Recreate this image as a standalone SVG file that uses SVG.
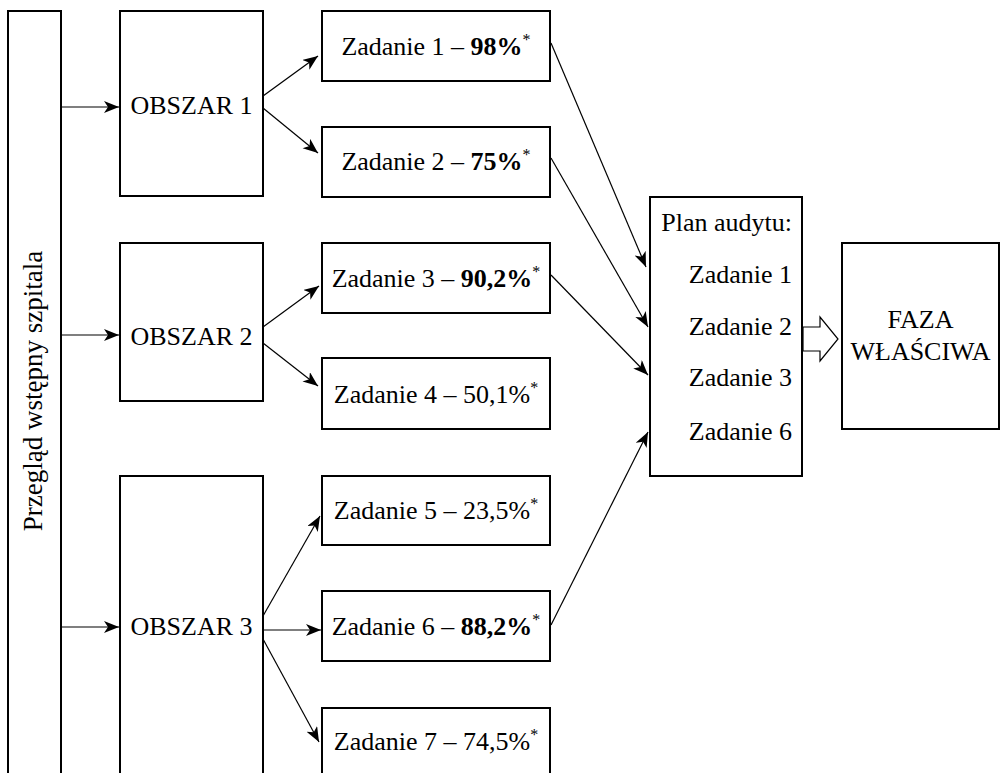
<svg xmlns="http://www.w3.org/2000/svg" width="1000" height="773" viewBox="0 0 1000 773">
<style>
.box{fill:#fff;stroke:#000;stroke-width:2}
.t{font-family:"Liberation Serif","Times New Roman",serif;font-size:26px;fill:#000}
.c{text-anchor:middle}
.r{text-anchor:end}
.b{font-weight:bold}
.sup{font-size:16px}
.ln{fill:none;stroke:#000;stroke-width:1.2}
</style>
<defs>
<marker id="ah" markerUnits="userSpaceOnUse" markerWidth="16" markerHeight="14" refX="15" refY="6" orient="auto">
<path d="M0,0 L15,6 L0,12 L4,6 Z" fill="#000"/>
</marker>
</defs>
<rect width="1000" height="773" fill="#fff"/>
<g id="przeglad">
<rect class="box" x="8" y="11" width="53" height="780"/>
<text class="t c" style="font-size:27px" transform="translate(42,391) rotate(-90)">Przegląd wstępny szpitala</text>
</g>
<g id="obszar1">
<rect class="box" x="120" y="11" width="143" height="185"/>
<text class="t c" x="191.5" y="114">OBSZAR 1</text>
</g>
<g id="obszar2">
<rect class="box" x="120" y="243" width="143" height="158"/>
<text class="t c" x="191.5" y="345">OBSZAR 2</text>
</g>
<g id="obszar3">
<rect class="box" x="120" y="476" width="143" height="320"/>
<text class="t c" x="191.5" y="635">OBSZAR 3</text>
</g>
<g id="zad1">
<rect class="box" x="322" y="11" width="228" height="70"/>
<text class="t c" x="436" y="55">Zadanie 1 – <tspan class="b">98%</tspan><tspan class="sup" dy="-10">*</tspan></text>
</g>
<g id="zad2">
<rect class="box" x="322" y="127" width="228" height="70"/>
<text class="t c" x="436" y="170">Zadanie 2 – <tspan class="b">75%</tspan><tspan class="sup" dy="-10">*</tspan></text>
</g>
<g id="zad3">
<rect class="box" x="322" y="243" width="228" height="70"/>
<text class="t c" x="436" y="287">Zadanie 3 – <tspan class="b">90,2%</tspan><tspan class="sup" dy="-10">*</tspan></text>
</g>
<g id="zad4">
<rect class="box" x="322" y="358" width="228" height="71"/>
<text class="t c" x="436" y="403">Zadanie 4 – 50,1%<tspan class="sup" dy="-10">*</tspan></text>
</g>
<g id="zad5">
<rect class="box" x="322" y="476" width="228" height="69"/>
<text class="t c" x="436" y="519">Zadanie 5 – 23,5%<tspan class="sup" dy="-10">*</tspan></text>
</g>
<g id="zad6">
<rect class="box" x="322" y="591" width="228" height="70"/>
<text class="t c" x="436" y="635">Zadanie 6 – <tspan class="b">88,2%</tspan><tspan class="sup" dy="-10">*</tspan></text>
</g>
<g id="zad7">
<rect class="box" x="322" y="708" width="228" height="90"/>
<text class="t c" x="436" y="750">Zadanie 7 – 74,5%<tspan class="sup" dy="-10">*</tspan></text>
</g>
<g id="plan">
<rect class="box" x="650" y="197" width="152" height="279"/>
<text class="t r" x="792" y="231">Plan audytu:</text>
<text class="t r" x="792" y="283">Zadanie 1</text>
<text class="t r" x="792" y="335">Zadanie 2</text>
<text class="t r" x="792" y="386">Zadanie 3</text>
<text class="t r" x="792" y="440">Zadanie 6</text>
</g>
<g id="faza">
<rect class="box" x="842" y="243" width="157" height="186"/>
<text class="t c" x="920.5" y="328">FAZA</text>
<text class="t c" x="920.5" y="360">WŁAŚCIWA</text>
</g>
<g id="connectors">
<line class="ln" x1="61" y1="107" x2="119" y2="107" marker-end="url(#ah)"/>
<line class="ln" x1="61" y1="335" x2="119" y2="335" marker-end="url(#ah)"/>
<line class="ln" x1="61" y1="627" x2="119" y2="627" marker-end="url(#ah)"/>
<line class="ln" x1="263" y1="96" x2="318" y2="56" marker-end="url(#ah)"/>
<line class="ln" x1="263" y1="108" x2="318" y2="153" marker-end="url(#ah)"/>
<line class="ln" x1="263" y1="327" x2="319" y2="286" marker-end="url(#ah)"/>
<line class="ln" x1="263" y1="343" x2="318" y2="386" marker-end="url(#ah)"/>
<line class="ln" x1="263" y1="616" x2="320" y2="516" marker-end="url(#ah)"/>
<line class="ln" x1="263" y1="630" x2="321" y2="630" marker-end="url(#ah)"/>
<line class="ln" x1="263" y1="639" x2="319" y2="742" marker-end="url(#ah)"/>
<line class="ln" x1="551" y1="43" x2="646" y2="267" marker-end="url(#ah)"/>
<line class="ln" x1="551" y1="158" x2="648" y2="327" marker-end="url(#ah)"/>
<line class="ln" x1="551" y1="275" x2="648" y2="375" marker-end="url(#ah)"/>
<line class="ln" x1="551" y1="625" x2="648" y2="432" marker-end="url(#ah)"/>
<polygon points="803,327 820,327 820,317 838,339 820,361 820,351 803,351" fill="#fff" stroke="#000" stroke-width="1.2"/>
</g>
</svg>
